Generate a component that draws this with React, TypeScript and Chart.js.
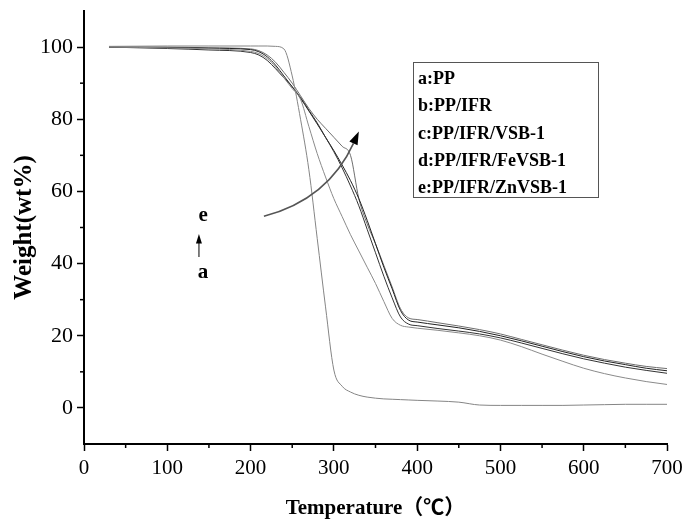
import React, { useEffect, useRef } from "react";
import { Chart, registerables } from "chart.js";

Chart.register(...registerables);

// Temperature (°C) sample points shared by all curves
const temps = [30, 100, 150, 200, 210, 220, 230, 240, 250, 260, 270, 280, 290, 300, 310, 320, 330, 340, 350, 360, 370, 380, 390, 400, 425, 450, 475, 500, 525, 550, 575, 600, 625, 650, 675, 700];

// Weight (wt%) series
const seriesA = [100.2, 100.3, 100.3, 100.3, 100.3, 100.3, 100.2, 99.5, 92, 80, 66, 47, 28, 10.5, 6, 4.4, 3.5, 3.0, 2.7, 2.5, 2.4, 2.3, 2.2, 2.1, 1.9, 1.6, 0.8, 0.7, 0.7, 0.7, 0.7, 0.8, 0.9, 1.0, 1.0, 1.0];
const seriesB = [100, 99.8, 99.5, 98.8, 98.2, 96.8, 94.5, 91.5, 88.5, 85.5, 78, 70.5, 64, 58, 53, 48, 43.5, 39, 34.5, 29.5, 24.8, 22.9, 22.4, 22.1, 21.5, 20.8, 20.0, 18.8, 17.0, 14.9, 12.9, 11.0, 9.5, 8.3, 7.3, 6.5];
const seriesC = [100, 99.6, 99.2, 98.5, 97.8, 96.3, 94.0, 91.5, 89, 86, 82.5, 79, 75, 71, 66.5, 61.5, 56, 49.5, 43, 36.5, 30.5, 25.2, 23.2, 22.8, 22.0, 21.3, 20.5, 19.4, 18.0, 16.5, 15.0, 13.6, 12.4, 11.3, 10.4, 9.6];
const seriesD = [100, 99.9, 99.7, 99.3, 98.7, 97.3, 95.0, 92.0, 89.0, 85.8, 82.3, 78.7, 75.0, 71.3, 67.3, 63, 58, 52, 45.5, 39, 33, 27, 24.3, 23.8, 23.0, 22.2, 21.2, 20.0, 18.6, 17.1, 15.6, 14.2, 13.0, 12.0, 11.0, 10.3];
const seriesE = [100, 100.0, 99.8, 99.5, 99.0, 97.8, 95.8, 93.0, 90.0, 86.5, 83.0, 80.0, 77.5, 75.0, 72.5, 70.0, 58, 51, 45.5, 39.5, 33.5, 27.5, 24.9, 24.5, 23.6, 22.7, 21.7, 20.5, 19.0, 17.5, 16.0, 14.6, 13.4, 12.4, 11.5, 10.9];

const legendLabels = ["a:PP", "b:PP/IFR", "c:PP/IFR/VSB-1", "d:PP/IFR/FeVSB-1", "e:PP/IFR/ZnVSB-1"];

const xTicks = [0, 100, 200, 300, 400, 500, 600, 700];
const xMinorTicks = [50, 150, 250, 350, 450, 550, 650];
const yTicks = [0, 20, 40, 60, 80, 100];
const yMinorTicks = [10, 30, 50, 70, 90];

const lineColors = ["#858585", "#8a8a8a", "#333333", "#222222", "#6e6e6e"];
const SERIF = "'Liberation Serif', 'Times New Roman', serif";

const overlayPlugin = {
  id: "overlay",
  afterDraw(chart: any) {
    const { ctx } = chart;
    const xs = chart.scales.x;
    const ys = chart.scales.y;
    const X = (v: number) => xs.getPixelForValue(v);
    const Y = (v: number) => ys.getPixelForValue(v);
    ctx.save();
    // minor ticks
    ctx.strokeStyle = "#000";
    ctx.lineWidth = 1.5;
    xMinorTicks.forEach((v) => {
      const px = X(v);
      ctx.beginPath();
      ctx.moveTo(px, ys.bottom);
      ctx.lineTo(px, ys.bottom + 4);
      ctx.stroke();
    });
    yMinorTicks.forEach((v) => {
      const py = Y(v);
      ctx.beginPath();
      ctx.moveTo(xs.left, py);
      ctx.lineTo(xs.left - 4, py);
      ctx.stroke();
    });

    // legend box
    const lx = X(395);
    const ly = Y(96);
    ctx.strokeStyle = "#555";
    ctx.lineWidth = 1;
    ctx.strokeRect(Math.round(lx) + 0.5, Math.round(ly) + 0.5, 185, 135);
    ctx.fillStyle = "#000";
    ctx.font = `bold 18px ${SERIF}`;
    ctx.textBaseline = "middle";
    ctx.textAlign = "left";
    legendLabels.forEach((t, i) => {
      ctx.fillText(t, lx + 5, ly + 18 + i * 27.3);
    });

    // "e" / arrow / "a" annotation
    ctx.textAlign = "center";
    ctx.font = `bold 21px ${SERIF}`;
    ctx.fillText("e", X(143), Y(53.3));
    ctx.fillText("a", X(143), Y(37.6));
    const ax = X(138);
    ctx.lineWidth = 1.5;
    ctx.beginPath();
    ctx.moveTo(ax, Y(41.8));
    ctx.lineTo(ax, Y(46));
    ctx.stroke();
    ctx.beginPath();
    ctx.moveTo(ax, Y(48.2));
    ctx.lineTo(ax - 3, Y(45.6));
    ctx.lineTo(ax + 3, Y(45.6));
    ctx.closePath();
    ctx.fill();

    // curved arrow
    const p0 = { x: X(216), y: Y(53.1) };
    const p1 = { x: X(293), y: Y(57.8) };
    const p2 = { x: X(330), y: Y(76.6) };
    const ang = Math.atan2(p2.y - p1.y, p2.x - p1.x);
    const headLen = 13;
    const base = { x: p2.x - headLen * Math.cos(ang), y: p2.y - headLen * Math.sin(ang) };
    ctx.lineWidth = 1.6;
    ctx.beginPath();
    ctx.moveTo(p0.x, p0.y);
    ctx.quadraticCurveTo(p1.x, p1.y, base.x, base.y);
    ctx.stroke();
    ctx.beginPath();
    ctx.moveTo(p2.x, p2.y);
    ctx.lineTo(base.x + 4.5 * Math.sin(ang), base.y - 4.5 * Math.cos(ang));
    ctx.lineTo(base.x - 4.5 * Math.sin(ang), base.y + 4.5 * Math.cos(ang));
    ctx.closePath();
    ctx.fill();
    ctx.restore();
  },
};

export default function App() {
  const ref = useRef<HTMLCanvasElement | null>(null);
  useEffect(() => {
    if (!ref.current) return;
    Chart.defaults.font.family = SERIF;
    const all = [seriesA, seriesB, seriesC, seriesD, seriesE];
    const chart = new Chart(ref.current, {
      type: "line",
      data: {
        datasets: all.map((s, i) => ({
          label: legendLabels[i],
          data: temps.map((t, j) => ({ x: t, y: s[j] })),
          borderColor: lineColors[i],
          borderWidth: 1,
          pointRadius: 0,
          fill: false,
          cubicInterpolationMode: "monotone" as const,
        })),
      },
      options: {
        responsive: false,
        animation: false,
        layout: { padding: { top: 11, right: 16, left: 0, bottom: 0 } },
        plugins: { legend: { display: false }, tooltip: { enabled: false } },
        scales: {
          x: {
            type: "linear",
            min: 0,
            max: 700,
            afterBuildTicks: (s: any) => {
              s.ticks = xTicks.map((v) => ({ value: v }));
            },
            afterFit: (s: any) => {
              s.height = 75;
              s.paddingLeft = 0;
              s.paddingRight = 0;
            },
            grid: { drawOnChartArea: false, drawTicks: true, tickLength: 7, tickColor: "#000", tickWidth: 1.5 },
            border: { display: true, color: "#000", width: 2 },
            ticks: { color: "#000", font: { size: 21 }, padding: 5, maxRotation: 0 },
            title: {
              display: true,
              text: "Temperature（℃）",
              color: "#000",
              font: { size: 21, weight: "bold", family: `'Liberation Serif', 'Noto Sans CJK SC', serif` },
              padding: { top: 0, bottom: -2 },
            },
          },
          y: {
            type: "linear",
            min: -10,
            max: 110,
            afterBuildTicks: (s: any) => {
              s.ticks = yTicks.map((v) => ({ value: v }));
            },
            afterFit: (s: any) => {
              s.width = 84;
              s.paddingTop = 0;
              s.paddingBottom = 0;
            },
            grid: { drawOnChartArea: false, drawTicks: true, tickLength: 7, tickColor: "#000", tickWidth: 1.5 },
            border: { display: true, color: "#000", width: 2 },
            ticks: { color: "#000", font: { size: 22 }, padding: 4 },
            title: {
              display: true,
              text: "Weight(wt%)",
              color: "#000",
              font: { size: 25, weight: "bold" },
              padding: { top: 10, bottom: 0 },
            },
          },
        },
      },
      plugins: [overlayPlugin],
    });
    return () => chart.destroy();
  }, []);
  return (
    <div style={{ position: "fixed", left: 0, top: 0, width: 683, height: 519, background: "#fff" }}>
      <canvas ref={ref} width={683} height={519} style={{ display: "block" }} />
    </div>
  );
}
